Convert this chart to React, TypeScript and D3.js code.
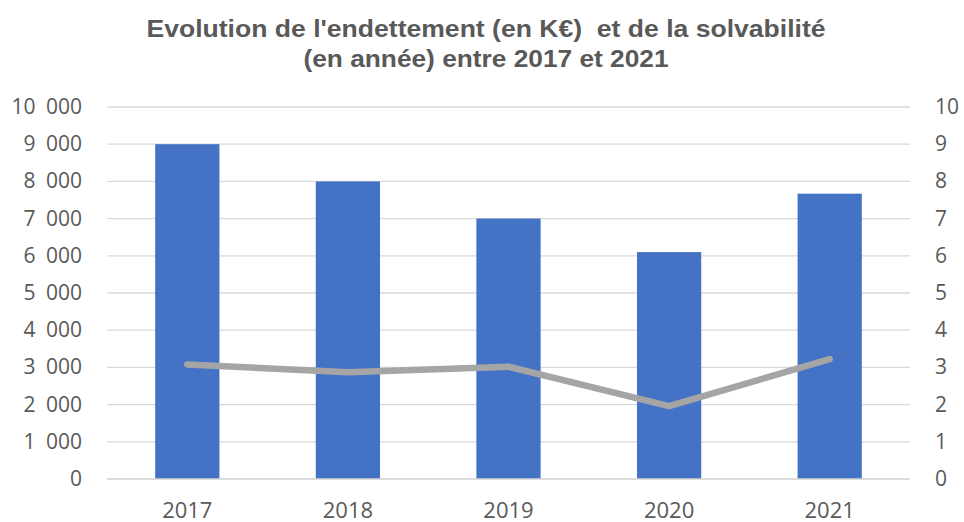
import React, { useEffect, useRef } from 'react';
import * as d3 from 'd3';

const years = ['2017', '2018', '2019', '2020', '2021'];
const endettement = [9000, 8000, 7000, 6100, 7670];
const solvabilite = [3.08, 2.87, 3.02, 1.96, 3.22];
const leftTicks = [0, 1000, 2000, 3000, 4000, 5000, 6000, 7000, 8000, 9000, 10000];
const rightTicks = [0, 1, 2, 3, 4, 5, 6, 7, 8, 9, 10];
const titleLines = ["Evolution de l'endettement (en K€)  et de la solvabilité", '(en année) entre 2017 et 2021'];

const App = () => {
    const svgRef = useRef<SVGSVGElement>(null);

    useEffect(() => {
        const width = 964,
              height = 522,
              left = 107,
              right = 910,
              top = 107,
              bottom = 479,
              textColor = '#595959',
              tickFont = '"Open Sans", sans-serif';

        const svg = d3.select(svgRef.current);
        svg.selectAll('*').remove();
        svg.attr('width', width).attr('height', height);

        const x = d3.scaleBand().domain(years).range([left, right]).paddingInner(0.6).paddingOuter(0.3);
        const yLeft = d3.scaleLinear().domain([0, 10000]).range([bottom, top]);
        const yRight = d3.scaleLinear().domain([0, 10]).range([bottom, top]);

        // title: the original is slightly stretched horizontally
        const titleWidths = [679, 365];
        svg.append('g')
            .selectAll('text')
            .data(titleLines)
            .enter()
            .append('text')
            .attr('x', 486)
            .attr('y', (d, i) => 37 + i * 30)
            .attr('text-anchor', 'middle')
            .attr('fill', textColor)
            .attr('font-family', 'Liberation Sans, Arial, sans-serif')
            .attr('font-weight', 'bold')
            .attr('font-size', 23.5)
            .attr('textLength', (d, i) => titleWidths[i])
            .attr('lengthAdjust', 'spacingAndGlyphs')
            .style('white-space', 'pre')
            .text(d => d);

        // gridlines
        svg.append('g')
            .selectAll('line')
            .data(leftTicks)
            .enter()
            .append('line')
            .attr('x1', left)
            .attr('x2', right)
            .attr('y1', d => yLeft(d))
            .attr('y2', d => yLeft(d))
            .attr('stroke', '#d9d9d9')
            .attr('stroke-width', 1.3);

        // left labels
        svg.append('g')
            .selectAll('text')
            .data(leftTicks)
            .enter()
            .append('text')
            .attr('x', 82)
            .attr('y', d => yLeft(d) + 7)
            .attr('text-anchor', 'end')
            .attr('fill', textColor)
            .style('font-family', tickFont)
            .style('font-size', '21px')
            .style('white-space', 'pre')
            .text(d => d3.format(',')(d).replace(',', '\u2002'));

        // right labels
        svg.append('g')
            .selectAll('text')
            .data(rightTicks)
            .enter()
            .append('text')
            .attr('x', 935)
            .attr('y', d => yRight(d) + 7)
            .attr('text-anchor', 'start')
            .attr('fill', textColor)
            .style('font-family', tickFont)
            .style('font-size', '21px')
            .text(d => d);

        // bars
        svg.append('g')
            .attr('fill', '#4472c4')
            .selectAll('rect')
            .data(endettement)
            .enter()
            .append('rect')
            .attr('x', (d, i) => x(years[i]))
            .attr('width', x.bandwidth())
            .attr('y', d => yLeft(d))
            .attr('height', d => bottom - yLeft(d));

        // x axis line
        svg.append('line')
            .attr('x1', left)
            .attr('x2', right)
            .attr('y1', bottom)
            .attr('y2', bottom)
            .attr('stroke', '#d9d9d9')
            .attr('stroke-width', 1.3);

        // x labels
        svg.append('g')
            .selectAll('text')
            .data(years)
            .enter()
            .append('text')
            .attr('x', d => x(d) + x.bandwidth() / 2)
            .attr('y', 518)
            .attr('text-anchor', 'middle')
            .attr('fill', textColor)
            .style('font-family', tickFont)
            .style('font-size', '22px')
            .text(d => d);

        // solvency line
        const line = d3.line<number>()
            .x((d, i) => x(years[i]) + x.bandwidth() / 2)
            .y(d => yRight(d));

        svg.append('path')
            .attr('d', line(solvabilite))
            .attr('fill', 'none')
            .attr('stroke', '#a5a5a5')
            .attr('stroke-width', 6.5)
            .attr('stroke-linecap', 'round')
            .attr('stroke-linejoin', 'round');
    }, []);

    return (
        <svg ref={svgRef} style={{ position: 'absolute', left: 0, top: 0 }}></svg>
    );
};

export default App;
